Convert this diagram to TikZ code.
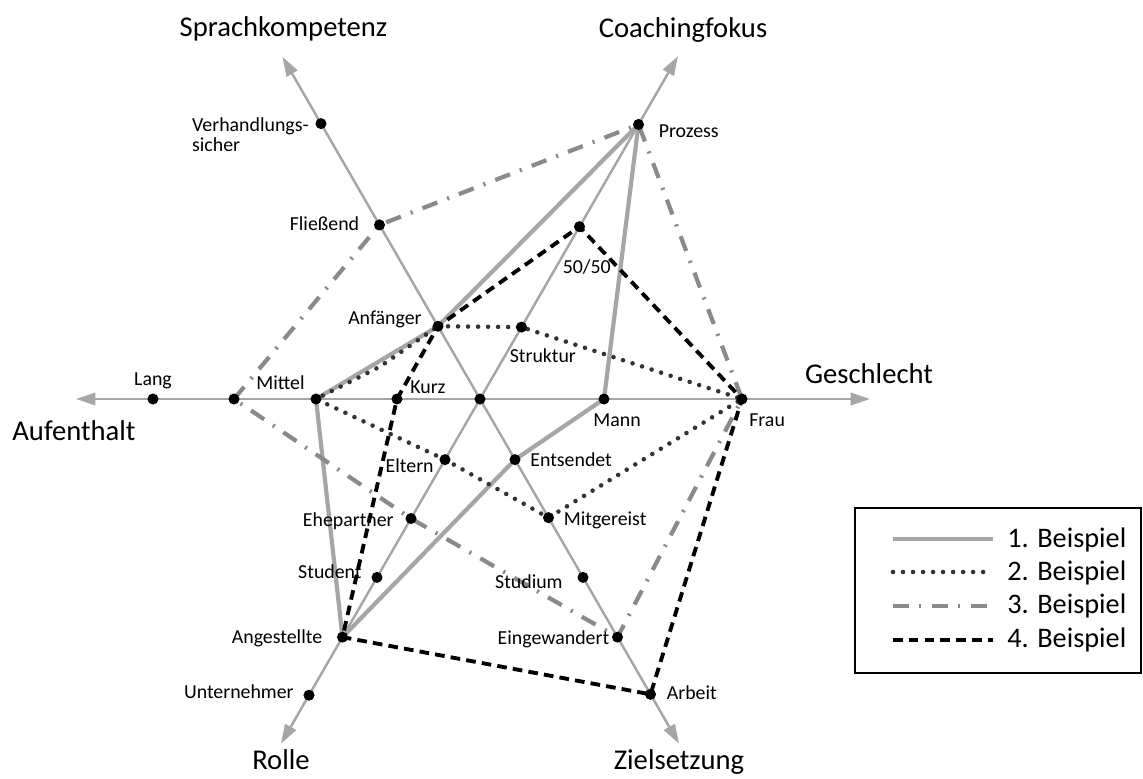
\documentclass[tikz,border=0pt]{standalone}
\usepackage{fontspec}
\setmainfont{Carlito}
\usetikzlibrary{arrows.meta,calc,positioning}

\definecolor{axisgray}{HTML}{A6A6A6}
\definecolor{midgray}{HTML}{8A8A8A}
\definecolor{dotgray}{HTML}{333333}

\pgfdeclarelayer{lines}
\pgfsetlayers{lines,main}

\begin{document}
\begin{tikzpicture}[x=0.02cm,y=0.02cm,
 axis/.style={draw=axisgray,line width=1.4pt,
   {Triangle[length=11pt,width=7pt]}-{Triangle[length=11pt,width=7pt]}},
 pt/.style={circle,fill=black,inner sep=0pt,minimum size=6.3pt},
 ptlabel/.style={inner sep=0pt,font=\fontsize{11.3}{11.3}\selectfont},
 axislabel/.style={inner sep=0pt,anchor=base,
   font=\fontsize{16.3}{19}\selectfont},
 legendtext/.style={inner sep=0pt,anchor=base west,
   font=\fontsize{16.1}{19}\selectfont},
 bsp1/.style={draw=axisgray,line width=2.4pt,line join=round},
 bsp2/.style={draw=dotgray,line width=2.6pt,line cap=round,
   dash pattern=on 0pt off 5.7pt},
 bsp3/.style={draw=midgray,line width=2.4pt,
   dash pattern=on 9pt off 6pt on 1.2pt off 6pt},
 bsp4/.style={draw=black,line width=2.2pt,dash pattern=on 5.5pt off 3.5pt}
]
\useasboundingbox (-480,-379) rectangle (663,399);

% axis ends
\coordinate (gesTip) at (0:390);
\coordinate (aufTip) at (180:404);
\coordinate (sprTip) at (120:395);
\coordinate (coaTip) at (60:396);
\coordinate (rolTip) at (240:398);
\coordinate (zieTip) at (300:398);

% points on the axes
\node[pt] (mitte) at (0,0) {};
\node[pt] (mann) at (0:124) {};
\node[pt] (frau) at (0:262) {};
\node[pt] (kurz) at (180:83) {};
\node[pt] (mittel) at (180:164) {};
\node[pt] (aufX) at (180:246) {};
\node[pt] (lang) at (180:327) {};
\node[pt] (anfaenger) at (120:84) {};
\node[pt] (fliessend) at (120:201) {};
\node[pt] (verhandl) at (120:318) {};
\node[pt] (struktur) at (60:83) {};
\node[pt] (fifty) at (60:199) {};
\node[pt] (prozess) at (60:317) {};
\node[pt] (eltern) at (240:70) {};
\node[pt] (ehepartner) at (240:138) {};
\node[pt] (student) at (240:206) {};
\node[pt] (angestellte) at (240:275) {};
\node[pt] (unternehmer) at (240:342) {};
\node[pt] (entsendet) at (300:70) {};
\node[pt] (mitgereist) at (300:137) {};
\node[pt] (studium) at (300:206) {};
\node[pt] (eingewandert) at (300:275) {};
\node[pt] (arbeit) at (300:341) {};

% point labels
\node[ptlabel,anchor=base west] (lMann) at ($(mann)+(-11,-27)$) {Mann};
\node[ptlabel,anchor=base west] (lFrau) at ($(frau)+(7,-27)$) {Frau};
\node[ptlabel,anchor=base west] (lKurz) at ($(kurz)+(13,6)$) {Kurz};
\node[ptlabel,anchor=base east] (lMittel) at ($(mittel)+(-11,10)$) {Mittel};
\node[ptlabel,anchor=base] (lLang) at ($(lang)+(0,14)$) {Lang};
\node[ptlabel,anchor=base east] (lAnfaenger) at ($(anfaenger)+(-16,2)$) {Anfänger};
\node[ptlabel,anchor=base east] (lFliessend) at ($(fliessend)+(-20,-6)$) {Fließend};
\node[ptlabel,anchor=north east,align=left] (lVerhandl) at ($(verhandl)+(-12,6)$)
 {Verhandlungs-\\sicher};
\node[ptlabel,anchor=base west] (lStruktur) at ($(struktur)+(-12,-35)$) {Struktur};
\node[ptlabel,anchor=base west] (lFifty) at ($(fifty)+(-17,-47)$) {50/50};
\node[ptlabel,anchor=base west] (lProzess) at ($(prozess)+(20,-13)$) {Prozess};
\node[ptlabel,anchor=base east] (lEltern) at ($(eltern)+(-11,-13)$) {Eltern};
\node[ptlabel,anchor=base east] (lEhepartner) at ($(ehepartner)+(-17,-8)$) {Ehepartner};
\node[ptlabel,anchor=base east] (lStudent) at ($(student)+(-15,-1)$) {Student};
\node[ptlabel,anchor=base east] (lAngestellte) at ($(angestellte)+(-20,-6)$) {Angestellte};
\node[ptlabel,anchor=base east] (lUnternehmer) at ($(unternehmer)+(-15,-3)$) {Unternehmer};
\node[ptlabel,anchor=base west] (lEntsendet) at ($(entsendet)+(15,-7)$) {Entsendet};
\node[ptlabel,anchor=base west] (lMitgereist) at ($(mitgereist)+(15,-8)$) {Mitgereist};
\node[ptlabel,anchor=base east] (lStudium) at ($(studium)+(-20,-11)$) {Studium};
\node[ptlabel,anchor=base east] (lEingewandert) at ($(eingewandert)+(-8,-7)$) {Eingewandert};
\node[ptlabel,anchor=base west] (lArbeit) at ($(arbeit)+(16,-5)$) {Arbeit};

% axis labels
\node[axislabel] (lGeschlecht) at ($(gesTip)+(-1,16)$) {Geschlecht};
\node[axislabel] (lAufenthalt) at ($(aufTip)+(-2,-41)$) {Aufenthalt};
\node[axislabel] (lSprache) at ($(sprTip)+(1,20)$) {Sprachkompetenz};
\node[axislabel] (lCoaching) at ($(coaTip)+(5,19)$) {Coachingfokus};
\node[axislabel] (lRolle) at ($(rolTip)+(0,-26)$) {Rolle};
\node[axislabel] (lZiel) at ($(zieTip)+(0,-26)$) {Zielsetzung};

\begin{pgfonlayer}{lines}
\draw[axis] (aufTip) -- (gesTip);
\draw[axis] (rolTip) -- (coaTip);
\draw[axis] (zieTip) -- (sprTip);

\draw[bsp1] (mittel.center) -- (anfaenger.center) -- (prozess.center)
 -- (mann.center) -- (entsendet.center) -- (angestellte.center) -- cycle;
\draw[bsp2] (anfaenger.center) -- (struktur.center)
 -- (frau.center) -- (mitgereist.center) -- (eltern.center)
 -- (mittel.center) -- ([shift={(3,-4)}]$(mittel)!.5!(anfaenger)$)
 -- (anfaenger.center);
\draw[bsp3] (aufX.center) -- (fliessend.center) -- (prozess.center)
 -- (frau.center) -- (eingewandert.center) -- (ehepartner.center) -- cycle;
\draw[bsp4] (kurz.center) -- (anfaenger.center) -- (fifty.center)
 -- (frau.center) -- (arbeit.center) -- (angestellte.center) -- cycle;
\end{pgfonlayer}

% legend
\node[draw=black,line width=1.1pt,minimum width=5.72cm,minimum height=3.3cm,
      inner sep=0pt] (legende) at (518,-191.5) {};
\node[legendtext] (lg1) at (527,-148) {1. Beispiel};
\node[legendtext] (lg2) at (527,-181) {2. Beispiel};
\node[legendtext] (lg3) at (527,-214) {3. Beispiel};
\node[legendtext] (lg4) at (527,-248) {4. Beispiel};
\draw[bsp1] (413,-140) -- (513,-140);
\draw[bsp2] (413,-173) -- (513,-173);
\draw[bsp3] (413,-207) -- (513,-207);
\draw[bsp4] (413,-241) -- (513,-241);
\end{tikzpicture}
\end{document}
